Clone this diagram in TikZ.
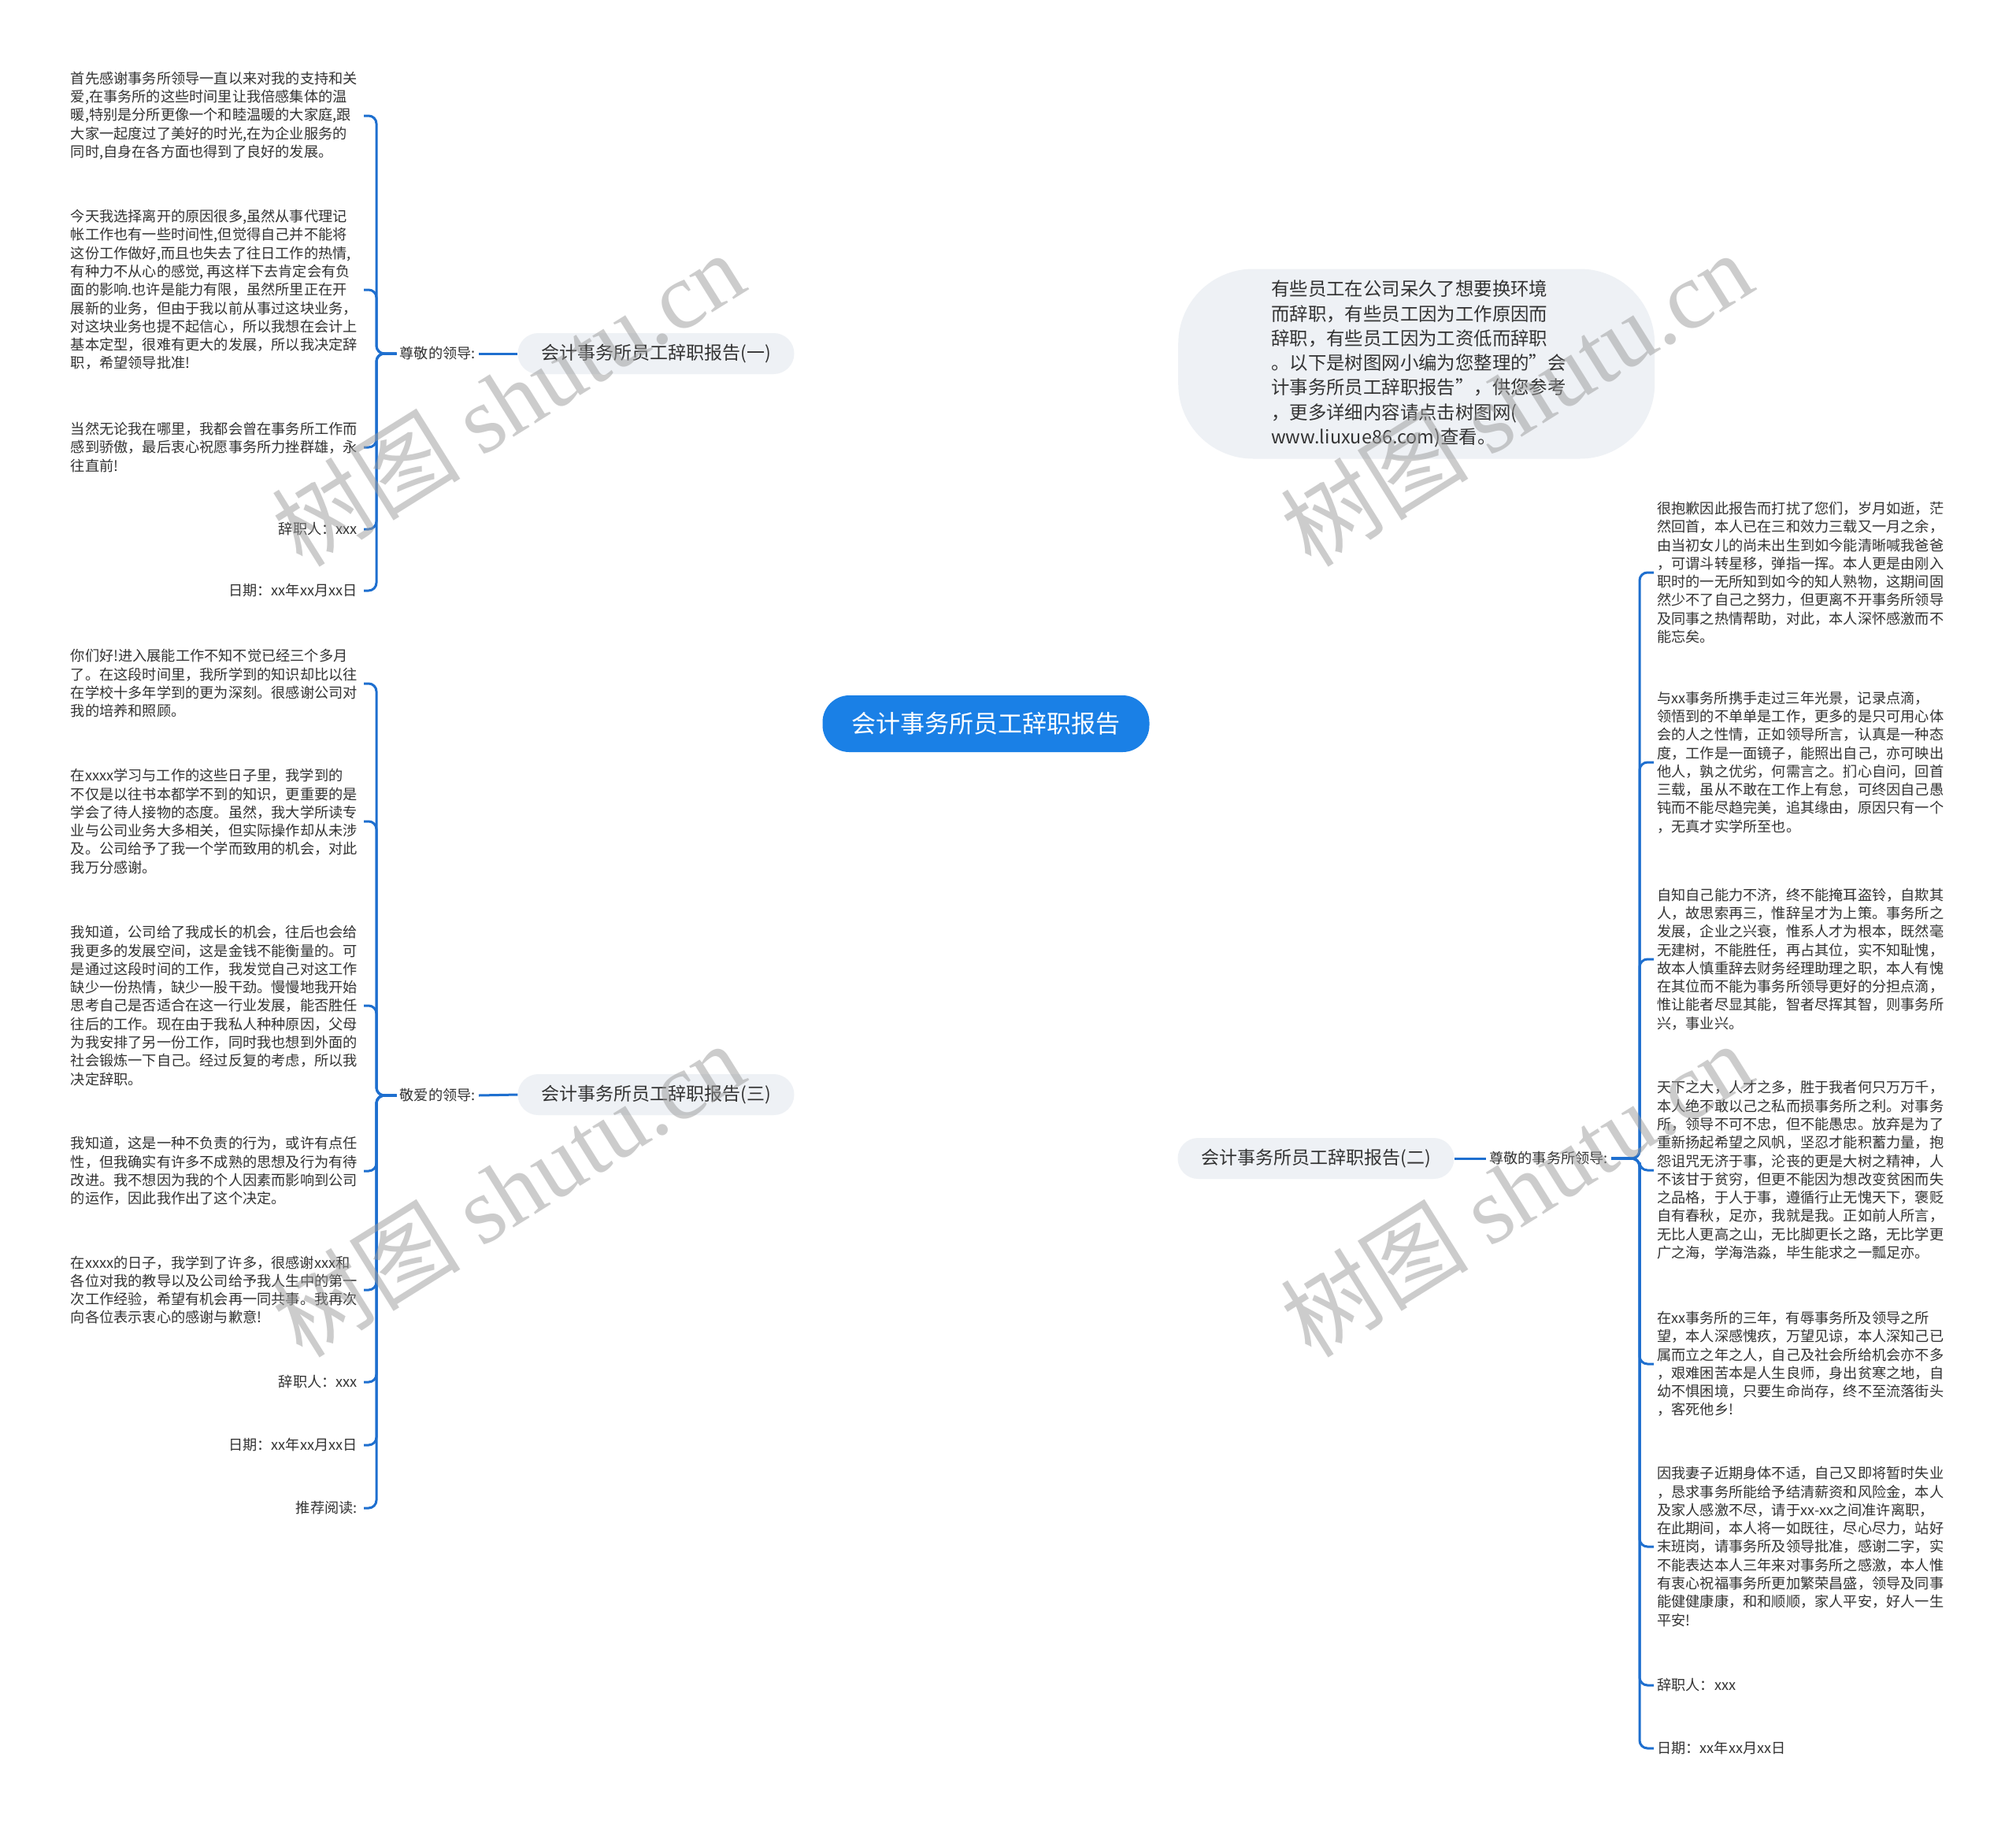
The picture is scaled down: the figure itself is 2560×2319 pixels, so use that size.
\documentclass[tikz,border=0pt]{standalone}
\usepackage{fontspec}
\setmainfont{Noto Sans CJK SC}
\newfontfamily\wmserif{Liberation Serif}
\usetikzlibrary{backgrounds}
\definecolor{rootblue}{HTML}{1A80E6}
\definecolor{linkblue}{HTML}{1E6FCF}
\definecolor{pill}{HTML}{EEF1F5}
\definecolor{txt}{HTML}{333333}
\definecolor{wm}{HTML}{9A9A9A}
\tikzset{
  conn/.style={draw=linkblue, line width=3pt, rounded corners=10pt},
  curve/.style={draw=linkblue, line width=3pt},
  rootnode/.style={fill=rootblue, text=white, rounded corners=34pt, minimum width=415pt, minimum height=72pt, font=\fontsize{31}{36}\selectfont, inner sep=0pt},
  branch/.style={fill=pill, text=txt, rounded corners=26pt, minimum width=351pt, minimum height=52pt, font=\fontsize{23}{28}\selectfont, inner sep=0pt},
  bubble/.style={fill=pill, text=txt, rounded corners=95pt, minimum height=241pt, text width=369pt, inner xsep=118pt, align=left, font=\fontsize{23.4}{31.3}\selectfont},
  lab/.style={text=txt, font=\fontsize{18.2}{23.3}\selectfont, inner xsep=4pt, inner ysep=2pt},
  leafL/.style={text=txt, font=\fontsize{18.2}{23.3}\selectfont, align=left, anchor=east, inner xsep=8pt, inner ysep=0pt},
  leafLr/.style={text=txt, font=\fontsize{18.2}{23.3}\selectfont, align=right, anchor=east, inner xsep=8pt, inner ysep=0pt},
  leafR/.style={text=txt, font=\fontsize{18.2}{23.3}\selectfont, align=left, anchor=west, inner xsep=4pt, inner ysep=0pt},
  wmark/.style={text=wm, opacity=0.5, rotate=32, font=\fontsize{120}{130}\selectfont, inner sep=0pt}
}
\begin{document}
\begin{tikzpicture}[x=1pt, y=-1pt]
\fill[white] (0,0) rectangle (2560,2319);
\useasboundingbox (0,0) rectangle (2560,2319);

% root and branches
\node[rootnode] (root) at (1252,919) {会计事务所员工辞职报告};
\node[branch] (b1) at (833,449) {会计事务所员工辞职报告(一)};
\node[branch] (b3) at (833,1390) {会计事务所员工辞职报告(三)};
\node[branch] (b2) at (1671,1471) {会计事务所员工辞职报告(二)};
\node[bubble, anchor=west] (intro) at (1496,462) {有些员工在公司呆久了想要换环境\\而辞职，有些员工因为工作原因而\\辞职，有些员工因为工资低而辞职\\。以下是树图网小编为您整理的"会\\计事务所员工辞职报告"，供您参考\\，更多详细内容请点击树图网(\\www.liuxue86.com)查看。};

% labels
\node[lab, anchor=east] (lab1) at (608,449) {尊敬的领导:};
\node[lab, anchor=east] (lab3) at (608,1391) {敬爱的领导:};
\node[lab, anchor=west] (lab2) at (1887,1471) {尊敬的事务所领导:};
\coordinate (sp1) at (478,449);
\coordinate (sp3) at (478,1391);
\coordinate (sp2) at (2082,1471);

% left top leaves
\node[leafL] (l1) at (462,147) {首先感谢事务所领导一直以来对我的支持和关\\爱,在事务所的这些时间里让我倍感集体的温\\暖,特别是分所更像一个和睦温暖的大家庭,跟\\大家一起度过了美好的时光,在为企业服务的\\同时,自身在各方面也得到了良好的发展。};
\node[leafL] (l2) at (462,368) {今天我选择离开的原因很多,虽然从事代理记\\帐工作也有一些时间性,但觉得自己并不能将\\这份工作做好,而且也失去了往日工作的热情,\\有种力不从心的感觉, 再这样下去肯定会有负\\面的影响.也许是能力有限，虽然所里正在开\\展新的业务，但由于我以前从事过这块业务，\\对这块业务也提不起信心，所以我想在会计上\\基本定型，很难有更大的发展，所以我决定辞\\职，希望领导批准!};
\node[leafL] (l3) at (462,568) {当然无论我在哪里，我都会曾在事务所工作而\\感到骄傲，最后衷心祝愿事务所力挫群雄，永\\往直前!};
\node[leafLr] (l4) at (462,672) {辞职人：xxx};
\node[leafLr] (l5) at (462,750) {日期：xx年xx月xx日};

% left bottom leaves
\node[leafL] (m1) at (462,868) {你们好!进入展能工作不知不觉已经三个多月\\了。在这段时间里，我所学到的知识却比以往\\在学校十多年学到的更为深刻。很感谢公司对\\我的培养和照顾。};
\node[leafL] (m2) at (462,1043) {在xxxx学习与工作的这些日子里，我学到的\\不仅是以往书本都学不到的知识，更重要的是\\学会了待人接物的态度。虽然，我大学所读专\\业与公司业务大多相关，但实际操作却从未涉\\及。公司给予了我一个学而致用的机会，对此\\我万分感谢。};
\node[leafL] (m3) at (462,1277) {我知道，公司给了我成长的机会，往后也会给\\我更多的发展空间，这是金钱不能衡量的。可\\是通过这段时间的工作，我发觉自己对这工作\\缺少一份热情，缺少一股干劲。慢慢地我开始\\思考自己是否适合在这一行业发展，能否胜任\\往后的工作。现在由于我私人种种原因，父母\\为我安排了另一份工作，同时我也想到外面的\\社会锻炼一下自己。经过反复的考虑，所以我\\决定辞职。};
\node[leafL] (m4) at (462,1487) {我知道，这是一种不负责的行为，或许有点任\\性，但我确实有许多不成熟的思想及行为有待\\改进。我不想因为我的个人因素而影响到公司\\的运作，因此我作出了这个决定。};
\node[leafL] (m5) at (462,1638) {在xxxx的日子，我学到了许多，很感谢xxx和\\各位对我的教导以及公司给予我人生中的第一\\次工作经验，希望有机会再一同共事。我再次\\向各位表示衷心的感谢与歉意!};
\node[leafLr] (m6) at (462,1755) {辞职人：xxx};
\node[leafLr] (m7) at (462,1835) {日期：xx年xx月xx日};
\node[leafLr] (m8) at (462,1915) {推荐阅读:};

% right leaves
\node[leafR] (r1) at (2100,727) {很抱歉因此报告而打扰了您们，岁月如逝，茫\\然回首，本人已在三和效力三载又一月之余，\\由当初女儿的尚未出生到如今能清晰喊我爸爸\\，可谓斗转星移，弹指一挥。本人更是由刚入\\职时的一无所知到如今的知人熟物，这期间固\\然少不了自己之努力，但更离不开事务所领导\\及同事之热情帮助，对此，本人深怀感激而不\\能忘矣。};
\node[leafR] (r2) at (2100,968) {与xx事务所携手走过三年光景，记录点滴，\\领悟到的不单单是工作，更多的是只可用心体\\会的人之性情，正如领导所言，认真是一种态\\度，工作是一面镜子，能照出自己，亦可映出\\他人，孰之优劣，何需言之。扪心自问，回首\\三载，虽从不敢在工作上有怠，可终因自己愚\\钝而不能尽趋完美，追其缘由，原因只有一个\\，无真才实学所至也。};
\node[leafR] (r3) at (2100,1218) {自知自己能力不济，终不能掩耳盗铃，自欺其\\人，故思索再三，惟辞呈才为上策。事务所之\\发展，企业之兴衰，惟系人才为根本，既然毫\\无建树，不能胜任，再占其位，实不知耻愧，\\故本人慎重辞去财务经理助理之职，本人有愧\\在其位而不能为事务所领导更好的分担点滴，\\惟让能者尽显其能，智者尽挥其智，则事务所\\兴，事业兴。};
\node[leafR] (r4) at (2100,1486) {天下之大，人才之多，胜于我者何只万万千，\\本人绝不敢以己之私而损事务所之利。对事务\\所，领导不可不忠，但不能愚忠。放弃是为了\\重新扬起希望之风帆，坚忍才能积蓄力量，抱\\怨诅咒无济于事，沦丧的更是大树之精神，人\\不该甘于贫穷，但更不能因为想改变贫困而失\\之品格，于人于事，遵循行止无愧天下，褒贬\\自有春秋，足亦，我就是我。正如前人所言，\\无比人更高之山，无比脚更长之路，无比学更\\广之海，学海浩淼，毕生能求之一瓢足亦。};
\node[leafR] (r5) at (2100,1732) {在xx事务所的三年，有辱事务所及领导之所\\望，本人深感愧疚，万望见谅，本人深知己已\\属而立之年之人，自己及社会所给机会亦不多\\，艰难困苦本是人生良师，身出贫寒之地，自\\幼不惧困境，只要生命尚存，终不至流落街头\\，客死他乡!};
\node[leafR] (r6) at (2100,1964) {因我妻子近期身体不适，自己又即将暂时失业\\，恳求事务所能给予结清薪资和风险金，本人\\及家人感激不尽，请于xx-xx之间准许离职，\\在此期间，本人将一如既往，尽心尽力，站好\\末班岗，请事务所及领导批准，感谢二字，实\\不能表达本人三年来对事务所之感激，本人惟\\有衷心祝福事务所更加繁荣昌盛，领导及同事\\能健健康康，和和顺顺，家人平安，好人一生\\平安!};
\node[leafR] (r7) at (2100,2140) {辞职人：xxx};
\node[leafR] (r8) at (2100,2220) {日期：xx年xx月xx日};

\begin{scope}[on background layer]
  \draw[curve] (root.center) .. controls (root.center |- b1.east) .. (b1.east);
  \draw[curve] (root.center) .. controls (root.center |- b3.east) .. (b3.east);
  \draw[curve] (root.center) .. controls (root.center |- intro.west) .. (intro.west);
  \draw[curve] (root.center) .. controls (root.center |- b2.west) .. (b2.west);
\end{scope}

\draw[conn] (b1.west) -- (lab1.east);
\draw[conn] (b3.west) -- (lab3.east);
\draw[conn] (b2.east) -- (lab2.west);
\foreach \n in {l1,l2,l3,l4,l5} \draw[conn] (lab1.west) -- (sp1) |- (\n.east);
\foreach \n in {m1,m2,m3,m4,m5,m6,m7,m8} \draw[conn] (lab3.west) -- (sp3) |- (\n.east);
\foreach \n in {r1,r2,r3,r4,r5,r6,r7,r8} \draw[conn] (lab2.east) -- (sp2) |- (\n.west);

% watermarks
\node[wmark] (w1) at (645,506) {树图 {\wmserif shutu.cn}};
\node[wmark] (w2) at (645,1510) {树图 {\wmserif shutu.cn}};
\node[wmark] (w3) at (1925,506) {树图 {\wmserif shutu.cn}};
\node[wmark] (w4) at (1925,1510) {树图 {\wmserif shutu.cn}};
\end{tikzpicture}
\end{document}
